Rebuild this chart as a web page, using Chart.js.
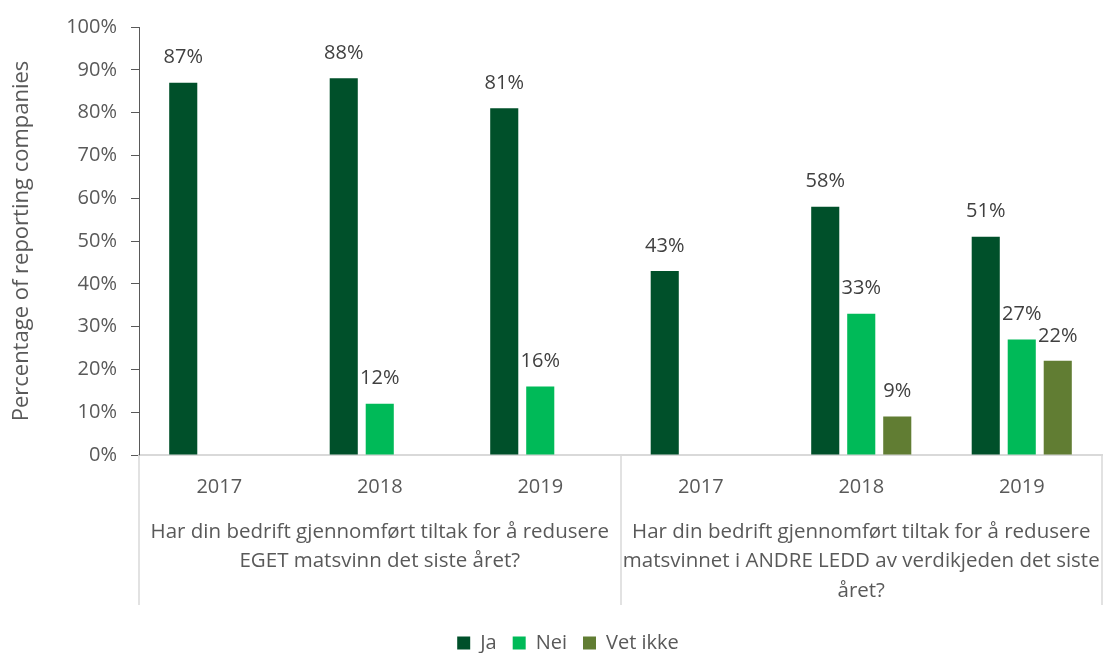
<!DOCTYPE html>
<html>
<head>
<meta charset="utf-8">
<script src="https://cdn.jsdelivr.net/npm/chart.js@4/dist/chart.umd.min.js"></script>
<style>
  html, body { margin: 0; padding: 0; background: #ffffff; overflow: hidden; }
  #wrap { position: relative; width: 1103px; height: 663px; }
</style>
</head>
<body>
<div id="wrap"><canvas id="chart"></canvas></div>
<script>
// Survey years per question
const years = ['2017', '2018', '2019', '2017', '2018', '2019'];

// Question text spanning each group of three years
const groupLabels = [
  ['Har din bedrift gjennomført tiltak for å redusere', 'EGET matsvinn det siste året?'],
  ['Har din bedrift gjennomført tiltak for å redusere', 'matsvinnet i ANDRE LEDD av verdikjeden det siste', 'året?']
];
const groupSize = 3;

// Share of companies answering (percent)
const ja      = [87, 88, 81, 43, 58, 51];
const nei     = [null, 12, 16, null, 33, 27];
const vetIkke = [null, null, null, null, 9, 22];

const yTicks = [0, 10, 20, 30, 40, 50, 60, 70, 80, 90, 100];

const FONT = '"Open Sans", sans-serif';
const TEXT = '#595959';
const LINE = '#d9d9d9';

// Value labels above bars, question labels and separators below the axis
const annotate = {
  id: 'annotate',
  afterLayout(chart) {
    // legend sits a little right of the canvas centre
    const lg = chart.legend;
    if (lg) { lg.left += 17; lg.right += 17; }
  },
  afterDatasetsDraw(chart) {
    const ctx = chart.ctx;
    ctx.save();
    ctx.font = '20px ' + FONT;
    ctx.fillStyle = '#404040';
    ctx.textAlign = 'center';
    ctx.textBaseline = 'middle';
    chart.data.datasets.forEach((ds, i) => {
      const meta = chart.getDatasetMeta(i);
      meta.data.forEach((bar, j) => {
        const v = ds.data[j];
        if (v === null || v === undefined) return;
        ctx.fillText(Math.round(v) + '%', bar.x, bar.y - 25);
      });
    });
    ctx.restore();
  },
  afterDraw(chart) {
    const ctx = chart.ctx;
    const x = chart.scales.x;
    const area = chart.chartArea;
    const half = (x.getPixelForValue(1) - x.getPixelForValue(0)) / 2;
    ctx.save();
    // separators between question groups
    ctx.strokeStyle = LINE;
    ctx.lineWidth = 1.5;
    const lineBottom = area.bottom + 150;
    for (let g = 0; g <= groupLabels.length; g++) {
      const idx = g * groupSize;
      const px = Math.round(x.getPixelForValue(Math.min(idx, years.length - 1)) + (idx >= years.length ? half : -half));
      ctx.beginPath();
      ctx.moveTo(px, area.bottom);
      ctx.lineTo(px, lineBottom);
      ctx.stroke();
    }
    // question text
    ctx.font = '20.5px ' + FONT;
    ctx.fillStyle = TEXT;
    ctx.textAlign = 'center';
    ctx.textBaseline = 'middle';
    groupLabels.forEach((lines, g) => {
      const first = x.getPixelForValue(g * groupSize);
      const last = x.getPixelForValue(g * groupSize + groupSize - 1);
      const cx = (first + last) / 2;
      lines.forEach((t, k) => {
        ctx.fillText(t, cx, area.bottom + 77 + k * 29.5);
      });
    });
    ctx.restore();
  }
};

new Chart(document.getElementById('chart'), {
  type: 'bar',
  data: {
    labels: years,
    datasets: [
      { label: 'Ja', data: ja, backgroundColor: '#00502A' },
      { label: 'Nei', data: nei, backgroundColor: '#00BA58' },
      { label: 'Vet ikke', data: vetIkke, backgroundColor: '#617D33' }
    ]
  },
  options: {
    responsive: true,
    maintainAspectRatio: false,
    animation: false,
    devicePixelRatio: 1,
    categoryPercentage: 0.673,
    barPercentage: 0.78,
    layout: { padding: { top: 27, right: 1, left: 0, bottom: 0 } },
    plugins: {
      legend: {
        position: 'bottom',
        labels: {
          font: { family: FONT, size: 20, lineHeight: 1 },
          color: TEXT,
          boxWidth: 13,
          boxHeight: 13,
          padding: 16
        }
      },
      tooltip: { enabled: false }
    },
    scales: {
      x: {
        grid: { display: false, drawTicks: false },
        border: { color: LINE, width: 2 },
        ticks: { font: { family: FONT, size: 20 }, color: TEXT, padding: 20 },
        afterFit(scale) { scale.height = 162; }
      },
      y: {
        min: 0,
        max: 100,
        afterBuildTicks(scale) { scale.ticks = yTicks.map(v => ({ value: v })); },
        grid: { drawOnChartArea: false, drawTicks: true, tickLength: 8, color: '#595959' },
        border: { color: '#595959', width: 1 },
        ticks: {
          font: { family: FONT, size: 20 },
          color: TEXT,
          padding: 14,
          callback: v => v + '%'
        },
        title: {
          display: true,
          text: 'Percentage of reporting companies',
          font: { family: FONT, size: 22 },
          color: TEXT,
          padding: { top: 9, bottom: 0 }
        },
        afterFit(scale) { scale.width = 139; }
      }
    }
  },
  plugins: [annotate]
});
</script>
</body>
</html>
